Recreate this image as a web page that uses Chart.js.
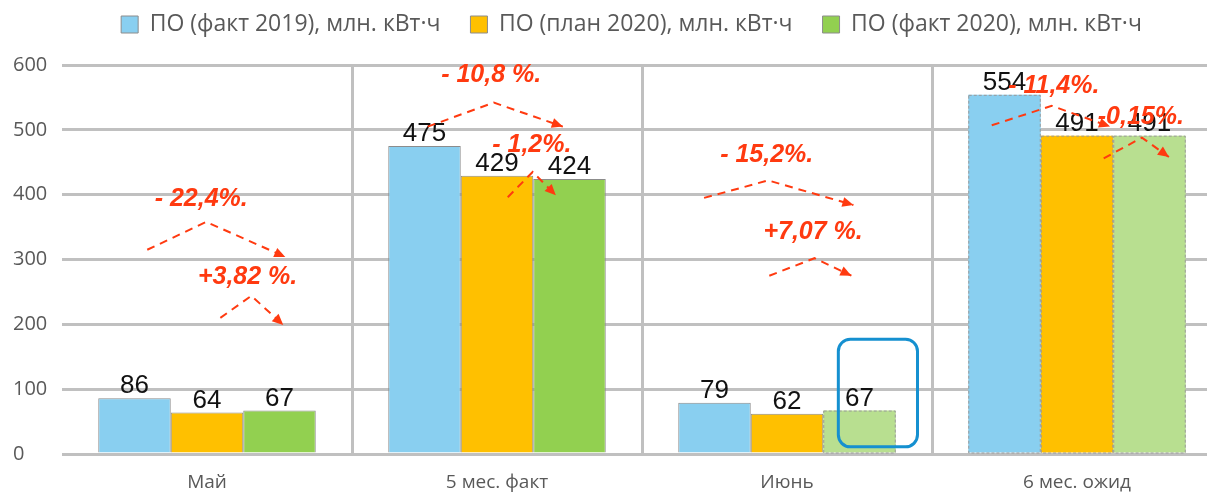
<!DOCTYPE html>
<html lang="ru">
<head>
  <meta charset="UTF-8">
  <title>ПО млн. кВт·ч</title>
  <style>
    body {
        margin: 0;
        padding: 0;
        background: #fff;
        overflow: hidden;
    }
    #wrap {
        width: 1230px;
        height: 494px;
    }
  </style>
</head>
<body>
  <div id="wrap"><canvas id="chart" width="1230" height="494"></canvas></div>

  <script src="https://cdn.jsdelivr.net/npm/chart.js"></script>
  <script>
    // data
    const categories = ['Май', '5 мес. факт', 'Июнь', '6 мес. ожид'];
    const seriesNames = ['ПО (факт 2019), млн. кВт·ч', 'ПО (план 2020), млн. кВт·ч', 'ПО (факт 2020), млн. кВт·ч'];
    const fact2019 = [86, 475, 79, 554];
    const plan2020 = [64, 429, 62, 491];
    const fact2020 = [67, 424, 67, 491];
    const yMax = 600;
    const yStep = 100;

    // bars that are estimates (dashed outline, lighter green)
    const estimate2019 = [false, false, false, true];
    const estimatePlan = [false, false, false, true];
    const estimate2020 = [false, false, true, true];

    // percent notes: text, position [category, value], arrow points [category, value]
    const pctLabels = ['- 22,4%.', '+3,82 %.', '- 10,8 %.', '- 1,2%.', '- 15,2%.', '+7,07 %.', '- 11,4%.', '-0,15%.'];
    const pctAt = [[-0.02, 393], [0.14, 273], [0.98, 584], [1.12, 476], [1.93, 461], [2.09, 342], [2.92, 568], [3.22, 519]];
    const pctArrows = [
      [[-0.206, 315], [-0.003, 358], [0.270, 304]],
      [[0.046, 210], [0.153, 244], [0.263, 199]],
      [[0.761, 505], [0.989, 542], [1.227, 505]],
      [[1.037, 396], [1.123, 435], [1.203, 399]],
      [[1.714, 395], [1.935, 422], [2.229, 384]],
      [[1.939, 275], [2.095, 302], [2.222, 275]],
      [[2.706, 507], [2.913, 537], [3.114, 505]],
      [[3.092, 456], [3.224, 488], [3.317, 458]]
    ];
    // highlight frame round the June fact bar: [catFrom, catTo, valueFrom, valueTo]
    const highlight = [2.177, 2.450, 11, 177];

    const estimates = [estimate2019, estimatePlan, estimate2020];
    const RED = '#ff3a10';

    function xy(chart, p) {
      return [chart.scales.x.getPixelForValue(p[0]), chart.scales.y.getPixelForValue(p[1])];
    }

    // legend: keep 30px between items but sit near the top
    const legendSpacing = {
      id: 'legendSpacing',
      beforeUpdate(chart) {
        const legend = chart.legend;
        if (!legend || legend._patched) return;
        legend._patched = true;
        const fit = legend.fit;
        legend.fit = function () { fit.call(this); this.height = 65; };
        const draw = legend.draw;
        legend.draw = function () {
          const t = this.top, l = this.left, r = this.right;
          this.top = t - 17;
          this.left = l + 14;
          this.right = r + 14;
          draw.call(this);
          this.top = t;
          this.left = l;
          this.right = r;
        };
      }
    };

    const barExtras = {
      id: 'barExtras',
      afterDatasetsDraw(chart) {
        const ctx = chart.ctx;
        ctx.save();
        // dashed outlines
        ctx.setLineDash([3, 2]);
        ctx.lineWidth = 1;
        ctx.strokeStyle = '#9a9a9a';
        chart.data.datasets.forEach((ds, di) => {
          chart.getDatasetMeta(di).data.forEach((bar, i) => {
            if (!estimates[di][i]) return;
            const p = bar.getProps(['x', 'y', 'width', 'base'], true);
            ctx.strokeRect(p.x - p.width / 2 + 0.5, p.y + 0.5, p.width - 1, p.base - p.y);
          });
        });
        ctx.setLineDash([]);

        // value labels
        ctx.font = '26px "Liberation Sans", Arial, sans-serif';
        ctx.fillStyle = '#111';
        ctx.textAlign = 'center';
        ctx.textBaseline = 'alphabetic';
        chart.data.datasets.forEach((ds, di) => {
          chart.getDatasetMeta(di).data.forEach((bar, i) => {
            const p = bar.getProps(['x', 'y'], true);
            ctx.fillText(ds.data[i], p.x, p.y - 5);
          });
        });

        // percent notes with dashed arrows
        ctx.strokeStyle = RED;
        ctx.fillStyle = RED;
        ctx.lineWidth = 2;
        pctArrows.forEach(pts => {
          const px = pts.map(p => xy(chart, p));
          ctx.setLineDash([8, 6]);
          ctx.beginPath();
          ctx.moveTo(px[0][0], px[0][1]);
          for (let k = 1; k < px.length; k++) ctx.lineTo(px[k][0], px[k][1]);
          ctx.stroke();
          ctx.setLineDash([]);
          const a = px[px.length - 2], b = px[px.length - 1];
          const ang = Math.atan2(b[1] - a[1], b[0] - a[0]);
          ctx.beginPath();
          ctx.moveTo(b[0], b[1]);
          ctx.lineTo(b[0] - 11 * Math.cos(ang) + 5 * Math.sin(ang), b[1] - 11 * Math.sin(ang) - 5 * Math.cos(ang));
          ctx.lineTo(b[0] - 11 * Math.cos(ang) - 5 * Math.sin(ang), b[1] - 11 * Math.sin(ang) + 5 * Math.cos(ang));
          ctx.closePath();
          ctx.fill();
        });
        ctx.font = 'italic bold 25px "Liberation Sans", Arial, sans-serif';
        ctx.textBaseline = 'middle';
        pctLabels.forEach((t, i) => {
          const p = xy(chart, pctAt[i]);
          ctx.fillText(t, p[0], p[1]);
        });

        // blue rounded frame
        const tl = xy(chart, [highlight[0], highlight[3]]);
        const br = xy(chart, [highlight[1], highlight[2]]);
        const r = 12;
        ctx.strokeStyle = '#1590d0';
        ctx.lineWidth = 3;
        ctx.beginPath();
        ctx.moveTo(tl[0] + r, tl[1]);
        ctx.arcTo(br[0], tl[1], br[0], br[1], r);
        ctx.arcTo(br[0], br[1], tl[0], br[1], r);
        ctx.arcTo(tl[0], br[1], tl[0], tl[1], r);
        ctx.arcTo(tl[0], tl[1], br[0], tl[1], r);
        ctx.closePath();
        ctx.stroke();
        ctx.restore();
      }
    };

    const colour2019 = '#89cff0';
    const colourPlan = '#ffc000';
    const colour2020 = '#92d050';
    const colour2020Light = '#b8df90';

    new Chart(document.getElementById('chart').getContext('2d'), {
      type: 'bar',
      data: {
        labels: categories,
        datasets: [
          {
            label: seriesNames[0],
            data: fact2019,
            backgroundColor: colour2019,
            borderColor: '#8c8c8c',
            borderWidth: c => (estimate2019[c.dataIndex] ? 0 : 1)
          },
          {
            label: seriesNames[1],
            data: plan2020,
            backgroundColor: colourPlan,
            borderColor: '#8c8c8c',
            borderWidth: c => (estimatePlan[c.dataIndex] ? 0 : 1)
          },
          {
            label: seriesNames[2],
            data: fact2020,
            backgroundColor: c => (estimate2020[c.dataIndex] ? colour2020Light : colour2020),
            borderColor: '#8c8c8c',
            borderWidth: c => (estimate2020[c.dataIndex] ? 0 : 1)
          }
        ]
      },
      options: {
        responsive: false,
        animation: false,
        categoryPercentage: 0.75,
        barPercentage: 1,
        layout: { padding: { left: 13, right: 8, top: 0, bottom: 0 } },
        plugins: {
          legend: {
            position: 'top',
            labels: {
              boxWidth: 17,
              boxHeight: 17,
              padding: 30,
              color: '#595959',
              font: { family: '"Open Sans", sans-serif', size: 23 }
            }
          },
          tooltip: { enabled: false }
        },
        scales: {
          x: {
            afterFit: s => { s.height = 40; },
            grid: {
              offset: true,
              drawTicks: false,
              lineWidth: 3,
              color: c => (c.index === 0 ? 'rgba(0,0,0,0)' : '#c0c0c0')
            },
            border: { display: false },
            ticks: {
              padding: 17,
              color: '#595959',
              font: { family: '"Open Sans", sans-serif', size: 19 }
            }
          },
          y: {
            min: 0,
            max: yMax,
            afterFit: s => { s.width = 49; },
            grid: { drawTicks: false, lineWidth: 3, color: '#c0c0c0' },
            border: { display: false },
            ticks: {
              stepSize: yStep,
              crossAlign: 'far',
              padding: 0,
              color: '#595959',
              font: { family: '"Open Sans", sans-serif', size: 20 }
            }
          }
        }
      },
      plugins: [legendSpacing, barExtras]
    });
  </script>
</body>
</html>
